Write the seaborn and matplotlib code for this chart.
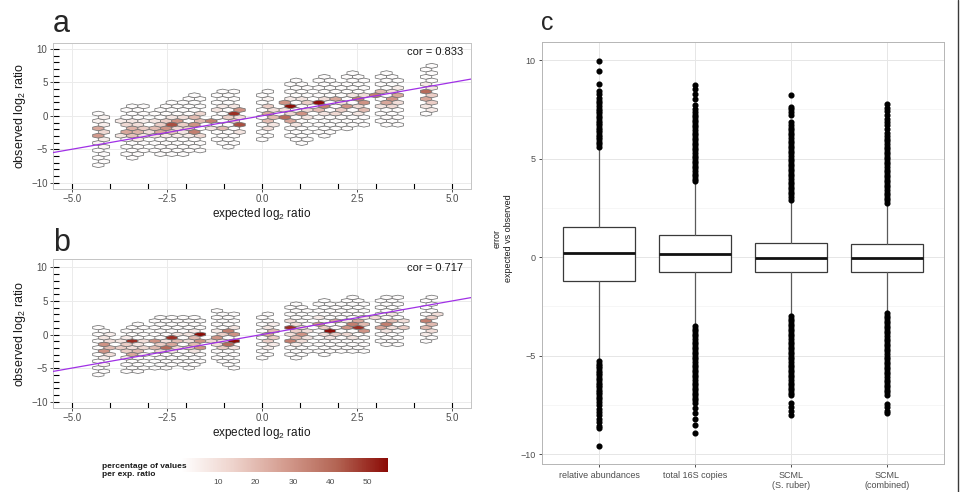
import numpy as np
import matplotlib
matplotlib.use("Agg")
import matplotlib.pyplot as plt
import seaborn as sns
from matplotlib.colors import LinearSegmentedColormap, Normalize
from matplotlib.ticker import FixedLocator
from matplotlib.lines import Line2D

sns.set_theme(style="white")
plt.rcParams['font.family'] = ['Liberation Sans', 'DejaVu Sans']
plt.rcParams['mathtext.fontset'] = 'custom'
plt.rcParams['mathtext.rm'] = 'Liberation Sans'
plt.rcParams['mathtext.it'] = 'Liberation Sans:italic'

# ---------------- data ----------------
# hex columns (expected log2 ratio bin centres)
col_x = [-4.30, -4.15,
         -3.56, -3.41, -3.26, -3.11,
         -2.81, -2.67, -2.52, -2.37, -2.22, -2.07, -1.92, -1.77, -1.63,
         -1.18, -1.03, -0.88, -0.73,
         0.01, 0.16,
         0.75, 0.90, 1.05, 1.20,
         1.50, 1.64, 1.79, 1.94, 2.09, 2.24, 2.39, 2.54, 2.69,
         3.13, 3.28, 3.43, 3.58,
         4.32, 4.47]

# observed range per column, panel a
a_lo = [-7.4, -7.0, -6.0, -6.5, -6.2, -5.9, -5.8, -6.0, -6.0, -5.9, -5.9, -5.9, -5.8, -5.4, -5.0,
        -4.3, -4.8, -5.3, -4.8, -3.8, -3.5, -3.8, -4.3, -4.3, -3.8,
        -2.5, -2.8, -2.2, -2.2, -1.7, -1.7, -1.7, -1.2, -1.7, -0.6, -1.1, -0.6, -1.1, 0.3, 0.8]
a_hi = [0.35, 0.0, 0.8, 1.2, 0.8, 1.2, 1.0, 1.6, 2.1, 2.1, 1.6, 2.1, 2.6, 3.2, 2.7,
        3.5, 3.9, 3.4, 3.9, 3.4, 3.9, 4.8, 5.9, 5.4, 4.8,
        5.3, 6.4, 5.3, 4.8, 4.8, 5.9, 6.4, 6.6, 6.0, 6.4, 6.9, 6.4, 6.0, 6.9, 7.5]

# observed range per column, panel b
b_lo = [-6.0, -5.6, -6.2, -5.7, -5.7, -5.2, -5.1, -5.1, -5.1, -4.6, -4.1, -5.1, -5.1, -4.6, -4.1,
        -3.6, -4.1, -4.6, -5.1, -3.6, -3.1, -3.6, -4.1, -3.6, -3.1,
        -2.6, -3.1, -2.6, -2.6, -2.6, -2.1, -2.6, -2.6, -3.1, -1.6, -1.6, -1.1, -2.1, -1.6, -1.1]
b_hi = [1.6, 1.1, 1.2, 1.6, 1.6, 1.2, 2.1, 2.6, 2.1, 2.6, 2.1, 2.6, 2.6, 3.1, 2.6,
        3.6, 3.6, 3.1, 3.6, 3.1, 3.6, 4.1, 5.1, 4.6, 3.6,
        4.6, 5.1, 4.6, 4.1, 4.6, 5.6, 6.1, 5.6, 4.6, 5.6, 5.6, 5.6, 6.1, 5.6, 6.1]

# percentage of values per expected ratio in the coloured cells (x, y, %)
a_hot = [(-4.30, -1.85, 25), (-4.15, -2.4, 12), (-4.30, -2.95, 28), (-4.15, -3.5, 6), (-4.15, -1.3, 5),
         (-4.30, -0.75, 4), (-4.30, -4.05, 4), (-4.15, -0.2, 4), (-4.30, -4.6, 3),
         (-3.56, -1.3, 12), (-3.41, -1.85, 22), (-3.26, -2.4, 22), (-3.56, -2.4, 25), (-3.41, -2.95, 18),
         (-3.11, -1.85, 15), (-3.26, -1.3, 10), (-3.11, -2.95, 8), (-3.41, -0.75, 8), (-3.26, -3.5, 6),
         (-3.56, -0.75, 6), (-3.11, -0.75, 5), (-3.56, -2.95, 8), (-3.11, -2.4, 10), (-3.41, -2.4, 8),
         (-3.26, -1.85, 10),
         (-2.37, -1.3, 45), (-2.22, -0.75, 30), (-2.52, -1.85, 30), (-2.67, -2.4, 25), (-2.81, -1.85, 20),
         (-2.52, -0.75, 15), (-2.37, -2.4, 18), (-2.67, -1.3, 15), (-2.22, -1.85, 12),
         (-2.81, -2.95, 8), (-2.52, -2.95, 6), (-2.37, -0.2, 8), (-2.67, -0.75, 8), (-2.22, -2.95, 6),
         (-1.63, -2.4, 35), (-1.77, -1.3, 30), (-1.92, -0.2, 20), (-1.63, -0.75, 20), (-2.07, -1.3, 15),
         (-1.77, -2.95, 12), (-1.92, -1.85, 15), (-1.63, 0.33, 12),
         (-2.07, -0.2, 10), (-2.07, -2.4, 8), (-1.92, -2.95, 6), (-1.77, 0.33, 8), (-1.63, -1.3, 10),
         (-0.88, 0.33, 50), (-0.73, -1.3, 45), (-1.18, -0.75, 35), (-0.73, 0.88, 30), (-1.03, -1.85, 20),
         (-1.03, -0.2, 15), (-0.88, -0.75, 15), (-1.18, 0.88, 8),
         (-1.18, -1.85, 8), (-0.73, -2.4, 8), (-0.88, 1.43, 8), (-1.03, 1.43, 6), (-0.73, -0.2, 10),
         (0.01, 0.33, 25), (0.01, -0.75, 20), (0.16, -0.2, 20), (0.16, 1.43, 15), (0.01, -1.85, 10),
         (0.16, 0.88, 10), (0.16, -1.3, 8), (0.01, 1.43, 6), (0.16, 2.5, 4),
         (0.90, 1.43, 55), (0.75, -0.2, 40), (1.05, 0.33, 30), (0.75, 1.98, 30), (0.75, -0.75, 25),
         (1.05, 1.98, 15), (0.90, 0.33, 12), (1.20, 0.88, 12),
         (0.90, -1.3, 8), (1.20, -0.2, 8), (1.05, 2.5, 8), (0.75, 0.88, 10), (0.90, 2.5, 6),
         (1.64, 1.98, 55), (1.79, 1.43, 35), (1.94, 2.5, 25), (2.24, 1.43, 30), (2.39, 2.5, 35), (2.69, 1.98, 30),
         (2.54, 0.88, 20), (1.50, 0.88, 20), (2.09, 0.88, 15), (2.54, 2.5, 15), (1.94, 0.33, 12), (2.39, 1.43, 12),
         (1.64, 0.33, 8), (1.79, 2.5, 10), (2.09, 1.98, 10), (2.24, 2.95, 8), (2.69, 2.95, 10), (2.69, 0.88, 8),
         (1.50, 1.98, 8), (2.39, 0.33, 8),
         (3.13, 2.95, 35), (3.43, 2.5, 30), (3.28, 1.98, 25), (3.58, 2.95, 25), (3.13, 3.5, 20), (3.43, 1.43, 12),
         (3.28, 3.5, 10), (3.58, 1.98, 10), (3.13, 1.43, 8), (3.58, 3.9, 6),
         (4.32, 3.5, 40), (4.47, 2.95, 15), (4.32, 2.4, 25), (4.47, 1.85, 15), (4.32, 1.3, 8), (4.47, 4.0, 8),
         (4.47, 0.8, 6), (4.32, 4.5, 6)]

b_hot = [(-4.30, -1.5, 30), (-4.15, -2.0, 20), (-4.30, -2.5, 30), (-4.15, -1.0, 10), (-4.30, -0.5, 8),
         (-4.15, -3.0, 10), (-4.30, -3.5, 5), (-4.15, 0.0, 5), (-4.30, -4.5, 4),
         (-3.26, -1.0, 50), (-3.56, -2.0, 15), (-3.41, -3.0, 25), (-3.56, -2.5, 15), (-3.26, -2.5, 20),
         (-3.41, -1.5, 15), (-3.11, -2.0, 12), (-3.11, -1.0, 10), (-3.56, -1.0, 8),
         (-3.41, -2.0, 10), (-3.26, -1.5, 8), (-3.56, -3.5, 6), (-3.11, -3.0, 6), (-3.41, -0.5, 6),
         (-2.37, -0.5, 50), (-2.52, -2.0, 40), (-2.67, -1.0, 30), (-2.81, -2.0, 20), (-2.37, -1.5, 25),
         (-2.22, -1.0, 20), (-2.52, -2.5, 12), (-2.67, -1.5, 15), (-2.22, -2.0, 12),
         (-2.81, -1.0, 8), (-2.52, -1.0, 10), (-2.22, 0.0, 8), (-2.37, -2.5, 8),
         (-1.63, 0.0, 55), (-1.77, -1.0, 30), (-1.92, -0.5, 20), (-1.63, -2.0, 30), (-2.07, -2.0, 15),
         (-1.77, -1.5, 20), (-1.92, -1.5, 12), (-1.63, -1.0, 12),
         (-2.07, -1.0, 10), (-1.92, 0.0, 8), (-1.77, -2.5, 8), (-1.63, 0.5, 6),
         (-0.73, -1.0, 55), (-0.88, 0.5, 35), (-0.88, -1.5, 40), (-1.18, -0.5, 30), (-0.73, 0.0, 30),
         (-1.03, -2.0, 15), (-1.03, 0.0, 15), (-1.18, -1.0, 12),
         (-1.18, -1.5, 10), (-1.03, -1.0, 10), (-0.73, -2.0, 8), (-0.88, 1.0, 8), (-1.18, 0.5, 6),
         (0.01, 0.0, 25), (0.16, 0.5, 20), (0.01, -1.0, 15), (0.16, -0.5, 15), (0.01, 1.0, 8),
         (0.16, -1.5, 6), (0.01, -2.0, 5), (0.16, 1.5, 5),
         (0.75, 1.0, 50), (0.75, -1.0, 35), (1.05, 0.0, 30), (0.90, -0.5, 20), (0.90, 0.5, 15),
         (0.75, 2.0, 10), (1.05, 1.0, 12), (1.20, 0.5, 10),
         (0.90, 1.5, 10), (1.05, -1.0, 10), (1.20, -0.5, 8), (0.75, 0.0, 10), (0.90, -1.5, 6),
         (1.79, 0.5, 55), (2.39, 1.0, 50), (2.24, 1.5, 35), (1.64, 1.5, 30), (1.94, 2.0, 25), (2.69, 0.5, 30),
         (2.09, 1.0, 30), (2.54, 2.0, 25), (1.94, 0.0, 15), (2.54, 1.5, 20), (1.50, 1.0, 15), (2.24, 0.0, 12),
         (1.50, 0.0, 10), (1.79, -0.5, 8), (2.09, 2.0, 8), (2.69, 1.5, 10), (2.39, -0.5, 8), (1.64, 2.5, 6),
         (2.54, 2.5, 8),
         (3.28, 1.5, 35), (3.13, 1.0, 25), (3.43, 2.0, 20), (3.58, 1.0, 15), (3.13, 2.5, 10), (3.43, 3.0, 8),
         (3.58, 2.0, 10), (3.28, 0.5, 8), (3.43, 1.0, 10),
         (4.32, 2.0, 35), (4.47, 1.5, 20), (4.32, 1.0, 20), (4.32, 2.5, 15), (4.47, 0.5, 10), (4.47, 3.0, 10),
         (4.47, 2.5, 8), (4.32, 0.0, 6)]

base_pct = 1.0
cor_text = ["cor = 0.833", "cor = 0.717"]
pct_ticks = [10, 20, 30, 40, 50]

# panel c: box statistics
box_labels = ["relative abundances", "total 16S copies", "SCML\n(S. ruber)", "SCML\n(combined)"]
box_med = [0.20, 0.17, -0.04, -0.04]
box_q1 = [-1.19, -0.75, -0.76, -0.76]
box_q3 = [1.55, 1.12, 0.74, 0.66]
box_whislo = [-5.27, -3.49, -2.98, -2.81]
box_whishi = [5.60, 3.84, 2.91, 2.74]

fl_rel = [5.62, 5.74, 5.86, 5.98, 6.10, 6.22, 6.34, 6.46, 6.58, 6.70, 6.82, 6.94, 7.06, 7.18, 7.30,
          7.42, 7.54, 7.68, 7.82, 7.95, 8.10, 8.27, 8.42, 8.80, 9.44, 9.95,
          -5.28, -5.40, -5.52, -5.64, -5.76, -5.88, -6.00, -6.12, -6.24, -6.36, -6.48, -6.60, -6.72,
          -6.84, -6.96, -7.08, -7.22, -7.37, -7.52, -7.68, -7.85, -8.00, -8.20, -8.38, -8.55, -8.68, -9.56]
fl_16s = [3.86, 3.99, 4.12, 4.25, 4.38, 4.51, 4.64, 4.77, 4.90, 5.03, 5.16, 5.29, 5.42, 5.55, 5.68,
          5.81, 5.94, 6.07, 6.20, 6.33, 6.46, 6.59, 6.72, 6.85, 6.98, 7.11, 7.24, 7.38, 7.52, 7.75,
          8.05, 8.30, 8.55, 8.75,
          -3.50, -3.63, -3.76, -3.89, -4.02, -4.15, -4.28, -4.41, -4.54, -4.67, -4.80, -4.93, -5.06,
          -5.19, -5.32, -5.45, -5.58, -5.71, -5.84, -5.97, -6.10, -6.23, -6.36, -6.49, -6.62, -6.75,
          -6.88, -7.01, -7.14, -7.27, -7.40, -7.65, -7.92, -8.20, -8.50, -8.93]
fl_scml_s = [2.93, 3.06, 3.19, 3.32, 3.45, 3.58, 3.71, 3.84, 3.97, 4.10, 4.23, 4.36, 4.49, 4.62, 4.75,
             4.88, 5.01, 5.14, 5.27, 5.40, 5.53, 5.66, 5.79, 5.92, 6.05, 6.18, 6.31, 6.44, 6.55, 6.70,
             6.87, 7.20, 7.37, 7.54, 7.62, 8.22,
             -2.98, -3.11, -3.24, -3.37, -3.50, -3.63, -3.76, -3.89, -4.02, -4.15, -4.28, -4.41, -4.54,
             -4.67, -4.80, -4.93, -5.06, -5.19, -5.32, -5.45, -5.58, -5.71, -5.84, -5.97, -6.10, -6.23,
             -6.36, -6.49, -6.62, -6.75, -6.88, -7.00, -7.40, -7.60, -7.80, -8.02]
fl_scml_c = [2.76, 2.89, 3.02, 3.15, 3.28, 3.41, 3.54, 3.67, 3.80, 3.93, 4.06, 4.19, 4.32, 4.45, 4.58,
             4.71, 4.84, 4.97, 5.10, 5.23, 5.36, 5.49, 5.62, 5.75, 5.88, 6.00, 6.15, 6.30, 6.50, 6.70,
             6.85, 7.00, 7.20, 7.40, 7.60, 7.80,
             -2.83, -2.96, -3.09, -3.22, -3.35, -3.48, -3.61, -3.74, -3.87, -4.00, -4.13, -4.26, -4.39,
             -4.52, -4.65, -4.78, -4.91, -5.04, -5.17, -5.30, -5.43, -5.56, -5.69, -5.82, -5.95, -6.08,
             -6.21, -6.34, -6.47, -6.60, -6.73, -6.86, -7.00, -7.45, -7.58, -7.80, -7.92]
box_fliers = [fl_rel, fl_16s, fl_scml_s, fl_scml_c]

# ---------------- figure ----------------
W, H = 963, 492
fig = plt.figure(figsize=(W / 100, H / 100), dpi=100)
fig.patch.set_facecolor('white')


def fax(l, t, r, b):
    return fig.add_axes([l / W, 1 - b / H, (r - l) / W, (b - t) / H])


cmap = LinearSegmentedColormap.from_list(
    'wr', ['#FFFFFF', '#EED3CC', '#D49C8F', '#B36554', '#8B0A05'])
norm = Normalize(vmin=0, vmax=55.5)

SX = 0.2972
X0 = -4.30


def hex_panel(ax, lo, hi, hot, row0, rs):
    xs, ys, cs = [], [], []
    for x, l, h in zip(col_x, lo, hi):
        k = int(round((x - X0) / (SX / 2)))
        xc = X0 + k * SX / 2
        n_lo = int(np.ceil((l - 0.25 - row0) / rs))
        n_hi = int(np.floor((h + 0.25 - row0) / rs))
        for n in range(n_lo, n_hi + 1):
            if (n - k) % 2 == 0:
                xs.append(xc)
                ys.append(row0 + n * rs)
                cs.append(base_pct)
    for x, y, p in hot:
        xs.append(x)
        ys.append(y)
        cs.append(p)
    nx, ny = 36, 24
    xmin = X0 - 3 * SX
    ymin = row0 - 24 * rs
    extent = (xmin, xmin + nx * SX, ymin, ymin + ny * 2 * rs)
    hb = ax.hexbin(xs, ys, C=cs, gridsize=(nx, ny), extent=extent,
                   reduce_C_function=np.max, cmap=cmap, norm=norm,
                   edgecolors='#737373', linewidths=0.55, zorder=2)
    ax.axline((0, 0), slope=1, color='#A030E6', lw=0.9, zorder=3)
    return hb


def style_hex(ax, ylim, label):
    ax.set_xlim(-5.5, 5.5)
    ax.set_ylim(*ylim)
    ax.set_xticks([-5, -2.5, 0, 2.5, 5])
    ax.set_xticklabels(['\u22125.0', '\u22122.5', '0.0', '2.5', '5.0'])
    ax.set_yticks([-10, -5, 0, 5, 10])
    ax.set_yticklabels(['\u221210', '\u22125', '0', '5', '10'])
    ax.xaxis.set_minor_locator(FixedLocator(list(range(-5, 6))))
    ax.yaxis.set_minor_locator(FixedLocator(list(range(-10, 11))))
    ax.xaxis.remove_overlapping_locs = False
    ax.yaxis.remove_overlapping_locs = False
    ax.tick_params(which='major', direction='out', length=2.2, width=0.6, color='#333333',
                   labelsize=7, labelcolor='#4D4D4D', pad=1.5, bottom=True, left=True)
    ax.tick_params(which='minor', direction='in', length=4.3, width=0.8, color='black',
                   bottom=True, left=True)
    ax.grid(True, which='major', color='#EBEBEB', lw=0.7)
    ax.set_axisbelow(True)
    for s in ax.spines.values():
        s.set_color('#C4C4C4')
        s.set_linewidth(0.7)
    ax.set_ylabel('observed log$_2$ ratio', fontsize=9, labelpad=2, color='#1A1A1A')
    ax.set_xlabel('expected log$_2$ ratio', fontsize=8.5, labelpad=1, color='#1A1A1A')
    ax.text(0.982, 0.972, label, transform=ax.transAxes, ha='right', va='top',
            fontsize=8, color='#1A1A1A')


ax_a = fax(52.7, 42.7, 471, 189)
hb_a = hex_panel(ax_a, a_lo, a_hi, a_hot, 0.33, 0.55)
style_hex(ax_a, (-10.94, 10.94), cor_text[0])

ax_b = fax(52.7, 259, 471, 408)
hb_b = hex_panel(ax_b, b_lo, b_hi, b_hot, 0.03, 0.5)
style_hex(ax_b, (-10.94, 11.25), cor_text[1])

fig.text(53 / W, 1 - 31.5 / H, 'a', fontsize=22, va='baseline', ha='left')
fig.text(53 / W, 1 - 251 / H, 'b', fontsize=22, va='baseline', ha='left')
fig.text(541 / W, 1 - 29.5 / H, 'c', fontsize=18, va='baseline', ha='left')

# colour bar
cax = fax(181, 458.3, 388.3, 471.7)
cb = fig.colorbar(hb_a, cax=cax, orientation='horizontal', ticks=pct_ticks)
cb.outline.set_visible(False)
cax.tick_params(axis='x', which='major', direction='in', length=2.8, width=0.9, color='white',
                labelsize=6, labelcolor='#4D4D4D', pad=5, bottom=True, top=True,
                labelbottom=True, labeltop=False)
cax.tick_params(axis='x', which='minor', length=0)
fig.text(101.7 / W, 1 - 470.5 / H, 'percentage of values\nper exp. ratio', fontsize=6,
         fontweight='bold', ha='left', va='center', linespacing=1.15, color='#1A1A1A')

# panel c
ax_c = fax(541.7, 42.3, 944.3, 464.3)
stats = []
for i in range(len(box_labels)):
    stats.append(dict(med=box_med[i], q1=box_q1[i], q3=box_q3[i],
                      whislo=box_whislo[i], whishi=box_whishi[i],
                      fliers=np.array(box_fliers[i])))
ax_c.bxp(stats, positions=list(range(len(box_labels))), widths=0.75, patch_artist=True,
         showcaps=False,
         boxprops=dict(facecolor='white', edgecolor='#3A3A3A', linewidth=0.9),
         medianprops=dict(color='#111111', linewidth=2.0),
         whiskerprops=dict(color='#5A5A5A', linewidth=0.9),
         flierprops=dict(marker='o', markerfacecolor='black', markeredgecolor='black',
                         markersize=3.4, linestyle='none'))
ax_c.set_xlim(-0.6, 3.6)
ax_c.set_ylim(-10.51, 10.91)
ax_c.set_xticks(list(range(len(box_labels))))
ax_c.set_xticklabels(box_labels)
ax_c.set_yticks([-10, -5, 0, 5, 10])
ax_c.set_yticklabels(['\u221210', '\u22125', '0', '5', '10'])
ax_c.yaxis.set_minor_locator(FixedLocator([-7.5, -2.5, 2.5, 7.5]))
ax_c.grid(True, which='major', color='#E6E6E6', lw=0.7)
ax_c.grid(True, which='minor', axis='y', color='#F3F3F3', lw=0.5)
ax_c.set_axisbelow(True)
ax_c.tick_params(which='minor', length=0)
ax_c.tick_params(which='major', direction='out', length=2.5, width=0.6, color='#333333',
                 labelsize=6.5, labelcolor='#4D4D4D', pad=2, bottom=True, left=True)
for s in ax_c.spines.values():
    s.set_color('#B5B5B5')
    s.set_linewidth(0.7)
fig.text(503 / W, 1 - 238 / H, 'error\nexpected vs observed', rotation=90, fontsize=6.5,
         ha='center', va='center', multialignment='center', linespacing=1.4, color='#1A1A1A')

fig.add_artist(Line2D([958.3 / W, 958.3 / W], [0, 1], color='#3A3A3A', lw=1.0,
                      transform=fig.transFigure))

fig.savefig('out.png', dpi=100, facecolor='white')
